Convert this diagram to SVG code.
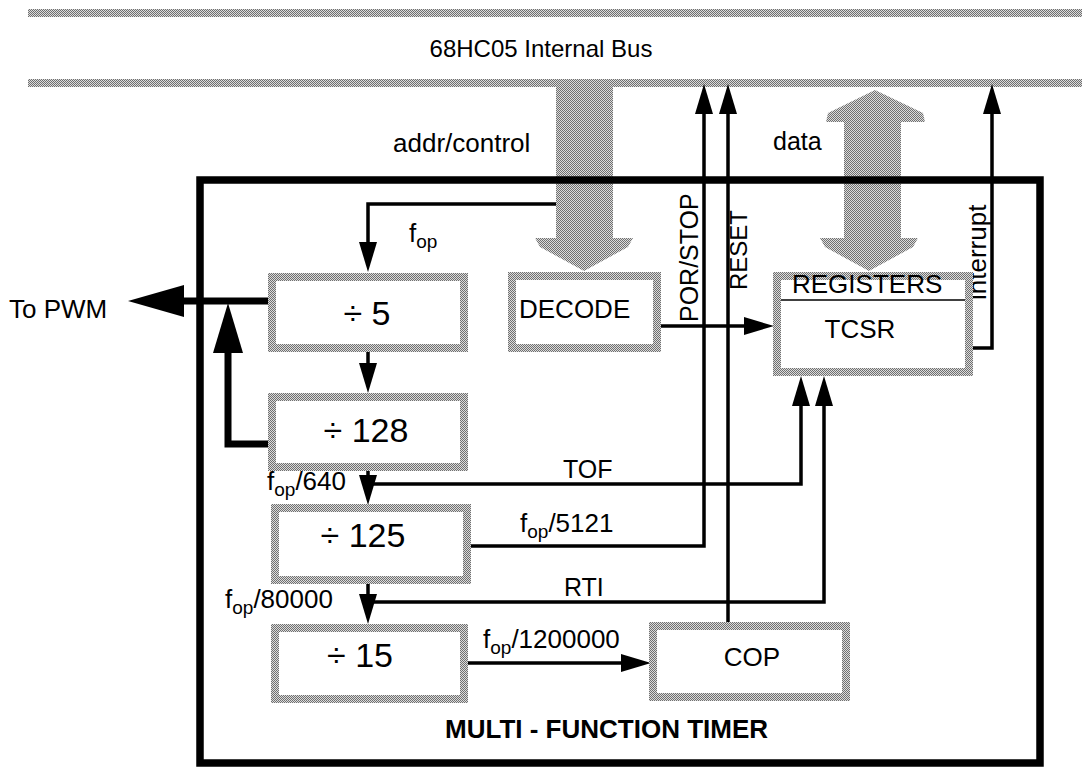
<svg xmlns="http://www.w3.org/2000/svg" width="1082" height="767" viewBox="0 0 1082 767">
<defs>
<pattern id="hatch" width="2" height="2" patternUnits="userSpaceOnUse">
<rect width="2" height="2" fill="#dcdcdc"/>
<rect width="1" height="1" fill="#707070"/>
<rect x="1" y="1" width="1" height="1" fill="#707070"/>
</pattern>
<marker id="ah" viewBox="0 0 30 18" markerWidth="30" markerHeight="18" refX="2" refY="9" orient="auto" markerUnits="userSpaceOnUse">
<path d="M0,0 L30,9 L0,18 z" fill="#000"/>
</marker>
</defs>
<style>
text{font-family:"Liberation Sans",Arial,sans-serif;fill:#000}
.t{font-size:26px}
.sub{font-size:19px}
.div{font-size:34px}
.blk{fill:#fff;stroke:url(#hatch);stroke-width:8}
.ln{fill:none;stroke:#000;stroke-width:3.5;marker-end:url(#ah)}
.thick{fill:none;stroke:#000;stroke-width:7}
.gray{fill:url(#hatch)}
</style>
<rect width="1082" height="767" fill="#fff"/>

<g id="bus">
<rect class="gray" x="28" y="9" width="1054" height="8"/>
<rect class="gray" x="28" y="79" width="1054" height="8"/>
<text x="541" y="57" text-anchor="middle" style="font-size:24px">68HC05 Internal Bus</text>
</g>

<g id="addr-arrow">
<rect class="gray" x="556" y="86" width="57" height="153"/>
<polygon class="gray" points="535,238 633,238 628,247 584,271 540,247"/>
<text class="t" x="393" y="152">addr/control</text>
</g>

<g id="data-arrow">
<polygon class="gray" points="875,90 923,113 925,122 826,122 828,113"/>
<rect class="gray" x="844" y="121" width="57" height="118"/>
<polygon class="gray" points="820,238 918,238 913,247 869,271 825,247"/>
<text class="t" x="773" y="150" style="font-size:25px">data</text>
</g>

<g id="timer-frame">
<rect x="200" y="180" width="840" height="583" fill="none" stroke="#000" stroke-width="7.5"/>
<text x="445" y="738" style="font-size:26px;font-weight:bold">MULTI - FUNCTION TIMER</text>
</g>

<g id="connectors">
<path class="ln" d="M556,204 H368 V244"/>
<path class="ln" d="M368,352 V365"/>
<path class="ln" d="M368,471 V477"/>
<path class="ln" d="M368,584 V596"/>
<path class="ln" d="M370,484 H801 V404"/>
<path class="ln" d="M370,602 H824 V404"/>
<path class="ln" d="M468,546 H704 V112"/>
<path class="ln" d="M728,622 V112"/>
<path class="ln" d="M657,326 H746"/>
<path class="ln" d="M969,348 H992 V112"/>
<path class="ln" d="M466,663 H623"/>
<path class="thick" d="M276,301 H182"/>
<polygon points="184,285 128,301 184,317" fill="#000"/>
<path class="thick" d="M270,444 H228 V351"/>
<polygon points="213,353 228,303 243,353" fill="#000"/>
<text class="t" x="409" y="242">f<tspan class="sub" dy="6">op</tspan></text>
<text class="t" x="267" y="490">f<tspan class="sub" dy="6">op</tspan><tspan dy="-6">/640</tspan></text>
<text class="t" x="520" y="532">f<tspan class="sub" dy="6">op</tspan><tspan dy="-6">/5121</tspan></text>
<text class="t" x="225" y="608">f<tspan class="sub" dy="6">op</tspan><tspan dy="-6">/80000</tspan></text>
<text class="t" x="483" y="648">f<tspan class="sub" dy="6">op</tspan><tspan dy="-6">/1200000</tspan></text>
<text class="t" x="563" y="478" style="font-size:25px">TOF</text>
<text class="t" x="564" y="596" style="font-size:25px">RTI</text>
<text class="t" x="9" y="318">To PWM</text>
<text class="t" transform="translate(698,322) rotate(-90)" style="font-size:25px">POR/STOP</text>
<text class="t" transform="translate(747,290) rotate(-90)" style="font-size:24px">RESET</text>
<text class="t" transform="translate(986,300) rotate(-90)">interrupt</text>
</g>

<g id="div5">
<rect class="blk" x="272" y="277" width="192" height="71"/>
<text class="div" x="367" y="325" text-anchor="middle">÷ 5</text>
</g>
<g id="div128">
<rect class="blk" x="272" y="397" width="192" height="70"/>
<text class="div" x="366" y="442" text-anchor="middle">÷ 128</text>
</g>
<g id="div125">
<rect class="blk" x="275" y="508" width="192" height="72"/>
<text class="div" x="363" y="547" text-anchor="middle">÷ 125</text>
</g>
<g id="div15">
<rect class="blk" x="275" y="628" width="189" height="71"/>
<text class="div" x="360" y="667" text-anchor="middle">÷ 15</text>
</g>
<g id="decode">
<rect class="blk" x="512" y="276" width="145" height="72"/>
<text class="t" x="519" y="318">DECODE</text>
</g>
<g id="registers">
<rect class="blk" x="777" y="276" width="192" height="96"/>
<line x1="781" y1="300" x2="965" y2="300" stroke="#000" stroke-width="1.5"/>
<text class="t" x="792" y="293">REGISTERS</text>
<text class="t" x="860" y="338" text-anchor="middle">TCSR</text>
</g>
<g id="cop">
<rect class="blk" x="653" y="626" width="193" height="71"/>
<text class="t" x="752" y="666" text-anchor="middle">COP</text>
</g>
</svg>
